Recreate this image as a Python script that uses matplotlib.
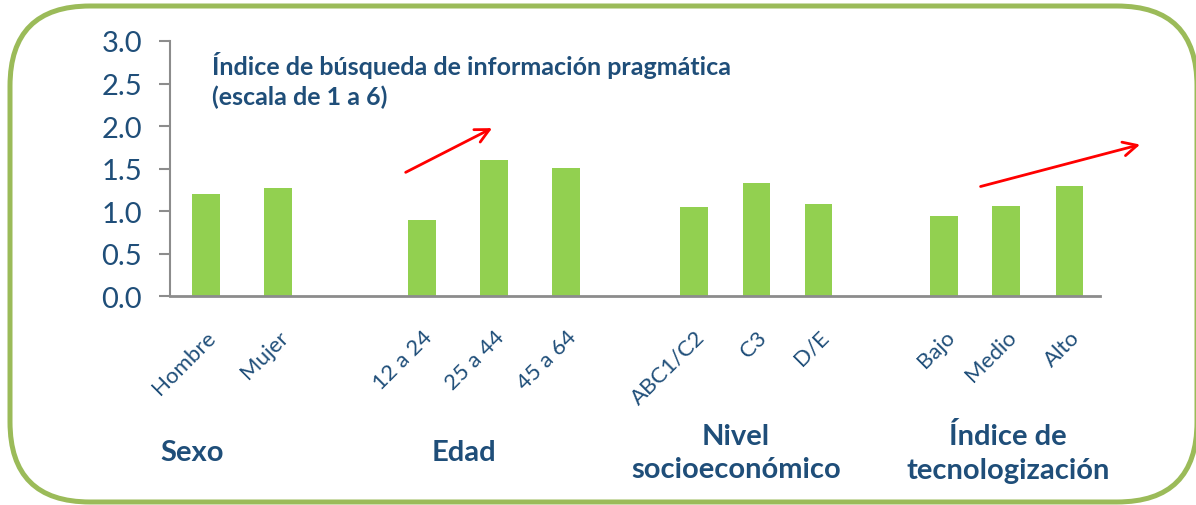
import matplotlib.pyplot as plt
from matplotlib.patches import FancyBboxPatch
from matplotlib.transforms import IdentityTransform, ScaledTranslation

# datos
categorias = ["Hombre", "Mujer", "12 a 24", "25 a 44", "45 a 64",
              "ABC1/C2", "C3", "D/E", "Bajo", "Medio", "Alto"]
valores = [1.20, 1.27, 0.89, 1.60, 1.51, 1.05, 1.33, 1.08, 0.94, 1.06, 1.29]
posiciones = [0, 1, 3, 4, 5, 6.78, 7.65, 8.51, 10.25, 11.11, 11.99]
grupos = ["Sexo", "Edad", "Nivel\nsocioeconómico", "Índice de\ntecnologización"]
grupos_x = [-0.19, 3.58, 7.36, 11.14]
titulo = "Índice de búsqueda de información pragmática\n(escala de 1 a 6)"

azul = "#1F4E79"
verde = "#92D050"
gris = "#8C8C8C"

plt.rcParams['font.family'] = ['Lato', 'DejaVu Sans']

fig = plt.figure(figsize=(11.96, 5.06), dpi=100)
ax = fig.add_axes([0.142, 0.413, 0.778, 0.504])

ax.bar(posiciones, valores, width=0.38, color=verde)
ax.set_ylim(0, 3.0)
ax.set_xlim(-0.5, 12.42)
ax.set_yticks([0, 0.5, 1.0, 1.5, 2.0, 2.5, 3.0])
ax.set_yticklabels([f"{v:.1f}" for v in ax.get_yticks()], fontsize=21, color=azul)
ax.set_xticks(posiciones)
ax.set_xticklabels(categorias, rotation=45, ha='right', rotation_mode='anchor',
                   fontsize=16, color=azul)
desplaza = ScaledTranslation(7 / 100, 0, fig.dpi_scale_trans)
for lab in ax.get_xticklabels():
    lab.set_transform(lab.get_transform() + desplaza)
ax.tick_params(axis='x', length=0, pad=22)
ax.tick_params(axis='y', length=8, width=1.5, color=gris, pad=12, direction='out')
for s in ['top', 'right']:
    ax.spines[s].set_visible(False)
ax.spines['left'].set_color(gris)
ax.spines['bottom'].set_color(gris)
ax.spines['left'].set_linewidth(1.5)
ax.spines['bottom'].set_linewidth(2)

ax.text(0.045, 0.96, titulo, transform=ax.transAxes, fontsize=18, fontweight='bold',
        color=azul, va='top', ha='left', linespacing=1.3)

# flechas rojas
ax.annotate("", xy=(4.01, 1.99), xytext=(2.74, 1.44), annotation_clip=False,
            arrowprops=dict(arrowstyle='->', color='red', lw=2, mutation_scale=25))
ax.annotate("", xy=(13.01, 1.79), xytext=(10.72, 1.28), annotation_clip=False,
            arrowprops=dict(arrowstyle='->', color='red', lw=2, mutation_scale=25))

for g, gx in zip(grupos, grupos_x):
    ax.text(gx, -1.84, g, ha='center', va='center', fontsize=21, fontweight='bold',
            color=azul, linespacing=1.35)

marco = FancyBboxPatch((10, 3), 1187, 496,
                       boxstyle="round,pad=0,rounding_size=80",
                       transform=IdentityTransform(), fill=False,
                       edgecolor="#9BBB59", lw=3.6)
fig.patches.append(marco)

fig.savefig("out.png", dpi=100)
